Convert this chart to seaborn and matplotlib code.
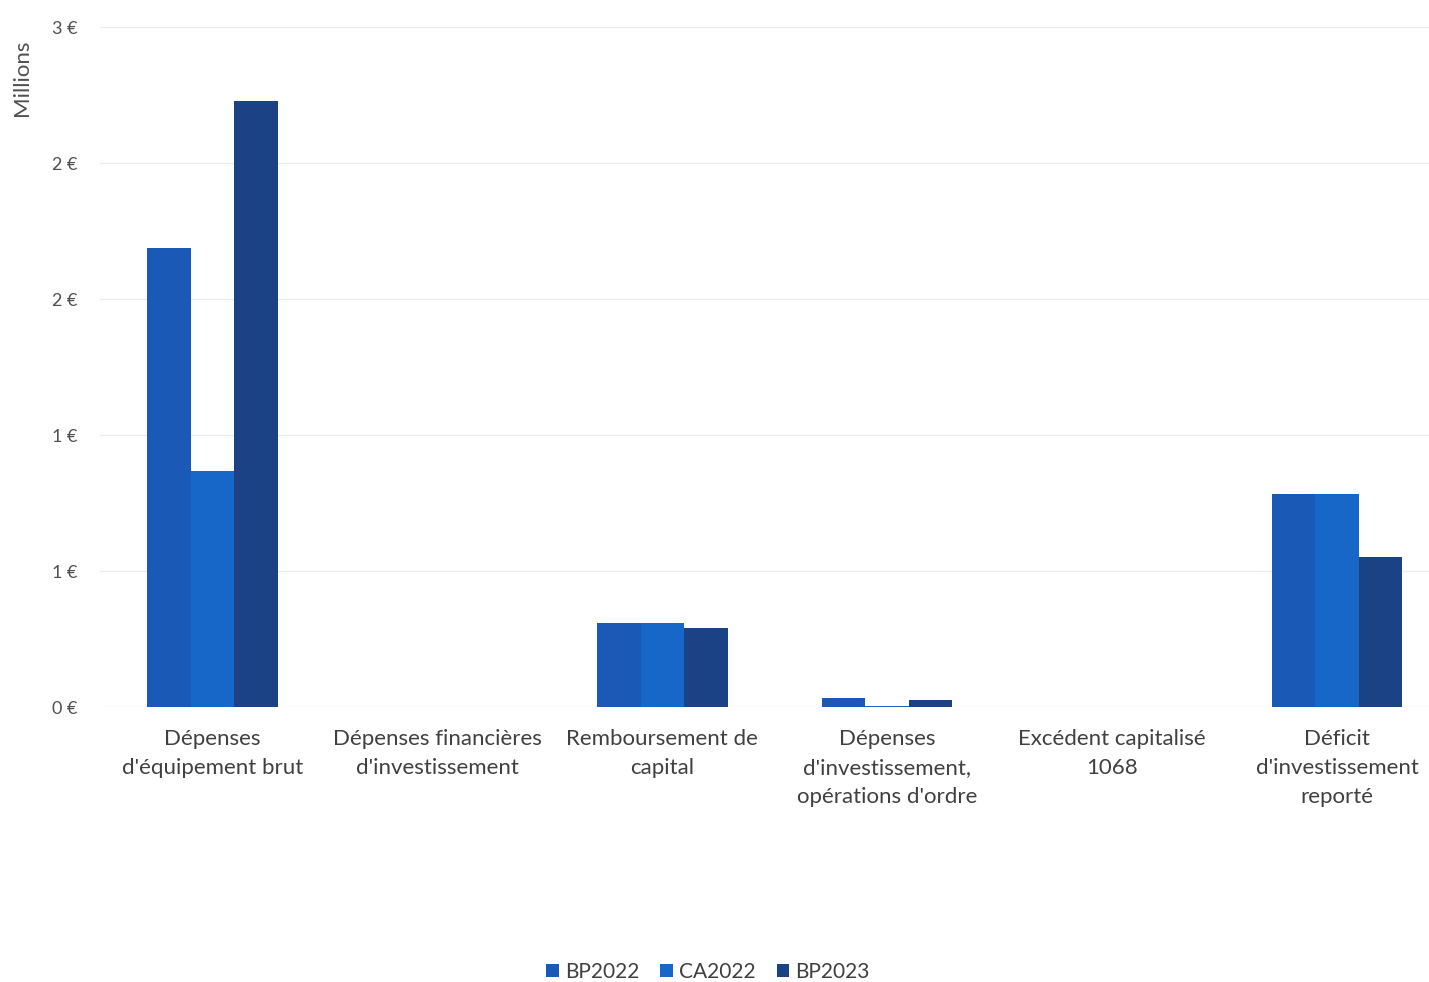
import matplotlib
matplotlib.use("Agg")
import matplotlib.pyplot as plt
import seaborn as sns
import pandas as pd

categories = [
    "Dépenses\nd'équipement brut",
    "Dépenses financières\nd'investissement",
    "Remboursement de\ncapital",
    "Dépenses\nd'investissement,\nopérations d'ordre",
    "Excédent capitalisé\n1068",
    "Déficit\nd'investissement\nreporté",
]
series = ["BP2022", "CA2022", "BP2023"]
bp2022 = [1.688, 0.0, 0.309, 0.033, 0.0, 0.783]
ca2022 = [0.868, 0.0, 0.309, 0.004, 0.0, 0.783]
bp2023 = [2.228, 0.0, 0.290, 0.026, 0.0, 0.551]
y_ticks = [0.0, 0.5, 1.0, 1.5, 2.0, 2.5]
y_tick_labels = ["0 €", "1 €", "1 €", "2 €", "2 €", "3 €"]
colors = ["#1b59b6", "#1667c8", "#1a4284"]

df = pd.DataFrame({
    "categorie": categories * 3,
    "serie": [s for s in series for _ in categories],
    "valeur": bp2022 + ca2022 + bp2023,
})

sns.set_theme(style="white")
plt.rcParams["font.family"] = ["Lato", "DejaVu Sans"]

fig = plt.figure(figsize=(14.29, 9.82), dpi=100)
ax = fig.add_axes([100 / 1429, 275 / 982, 1329 / 1429, 680 / 982])

sns.barplot(data=df, x="categorie", y="valeur", hue="serie", order=categories,
            hue_order=series, palette=colors, width=0.58, gap=0, saturation=1,
            errorbar=None, linewidth=0, ax=ax, legend=True)

ax.set_xlim(-0.5, (1429 - 212) / 225)
ax.set_ylim(0, 2.5)
ax.set_yticks(y_ticks)
ax.set_yticklabels(y_tick_labels, fontsize=13, color="#505050")
ax.yaxis.grid(True, color="#ececec", linewidth=1)
ax.set_axisbelow(True)
ax.tick_params(axis="y", length=0, pad=16)
ax.tick_params(axis="x", length=0, pad=16)
for lbl in ax.get_xticklabels():
    lbl.set_fontsize(16)
    lbl.set_color("#404040")
    lbl.set_linespacing(1.55)
for s in ax.spines.values():
    s.set_visible(False)
ax.set_xlabel("")
ax.set_ylabel("")
fig.text(22 / 1429, 1 - 78 / 982, "Millions", rotation=90, ha="center", va="center",
         fontsize=16, color="#505050")

handles, labels = ax.get_legend_handles_labels()
ax.legend_.remove()
fig.legend(handles, labels, loc="center", bbox_to_anchor=(708 / 1429, 1 - 972 / 982),
           ncol=3, frameon=False, fontsize=15, handlelength=0.6, handleheight=0.6,
           handletextpad=0.3, columnspacing=1.0, labelcolor="#404040")

fig.savefig("out.png", dpi=100)
